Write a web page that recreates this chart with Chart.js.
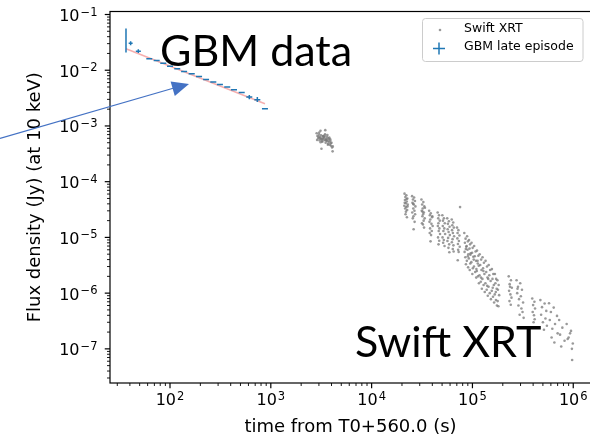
<!DOCTYPE html>
<html>
<head>
<meta charset="utf-8">
<script src="https://cdn.jsdelivr.net/npm/chart.js@4.4.0/dist/chart.umd.min.js"></script>
<style>
    html, body { margin: 0; padding: 0; background: #fff; overflow: hidden; }
    #wrap { position: relative; width: 600px; height: 439px; }
    #chart { position: absolute; left: 0; top: 0; }
    #overlay { position: absolute; left: 0; top: 0; pointer-events: none; }
</style>
</head>
<body>
<div id="wrap">
    <canvas id="chart" width="600" height="439"></canvas>
    <svg id="overlay" width="600" height="439" xmlns="http://www.w3.org/2000/svg">
        <!-- legend -->
        <rect x="422.5" y="18.5" width="160.5" height="43" rx="3" fill="rgba(255,255,255,0.8)" stroke="#cccccc" stroke-width="1"/>
        <circle cx="440" cy="30" r="1.3" fill="rgba(120,120,120,0.75)"/>
        <text x="464" y="32" font-family="DejaVu Sans" font-size="12.5" fill="#000">Swift XRT</text>
        <line x1="433" y1="48.5" x2="445" y2="48.5" stroke="#1f77b4" stroke-width="1.5"/>
        <line x1="439" y1="42.5" x2="439" y2="54.5" stroke="#1f77b4" stroke-width="1.5"/>
        <text x="464" y="49.5" font-family="DejaVu Sans" font-size="12.5" fill="#000">GBM late episode</text>
        <!-- annotations -->
        <text x="160" y="66" font-family="Lato" font-size="43" fill="#000">GBM data</text>
        <text x="355" y="357" font-family="Lato" font-size="43" fill="#000">Swift XRT</text>
        <line x1="0" y1="138.5" x2="174" y2="88" stroke="#4472C4" stroke-width="1.3"/>
        <polygon points="189,84 170.6,81.5 174.8,95.9" fill="#4472C4"/>
    </svg>
</div>
<script>
// GBM late episode (binned light curve, with error bars)
const gbmTime   = [36.6, 40.7, 48.5, 62.3, 73.8, 85.8, 100, 118, 138, 164, 194, 228, 269, 313, 370, 431, 514, 612, 735, 875];
const gbmTimeLo = [36.3, 38.9, 45.8, 58.2, 68.9, 80.1, 93.4, 110.2, 128.9, 153, 181, 213, 251, 292, 345, 402, 480, 571, 686, 817];
const gbmTimeHi = [36.9, 42.6, 51.4, 66.7, 79.0, 91.9, 107.1, 126.4, 147.8, 176, 208, 244, 288, 335, 396, 462, 551, 655, 787, 937];
const gbmFlux   = [0.0342, 0.0306, 0.0220, 0.0161, 0.0150, 0.0134, 0.01183, 0.01064, 0.0095, 0.00865, 0.00774, 0.00684, 0.00612, 0.00557, 0.00498, 0.00448, 0.0040, 0.0033, 0.00296, 0.00204];
const gbmFluxLo = [0.0208, 0.0282, 0.0203, 0.0158, 0.0147, 0.0131, 0.0116, 0.0104, 0.0093, 0.00848, 0.00759, 0.0067, 0.0060, 0.00546, 0.00488, 0.00439, 0.00392, 0.0030, 0.0027, 0.0020];
const gbmFluxHi = [0.0561, 0.0332, 0.0239, 0.0164, 0.0153, 0.0137, 0.0121, 0.0109, 0.0097, 0.00882, 0.00789, 0.00698, 0.00624, 0.00568, 0.00508, 0.00457, 0.00408, 0.0036, 0.0033, 0.00208];

// power-law line drawn through the GBM points
const fitTime = [36.6, 875];
const fitFlux = [0.0243, 0.00251];

// Swift XRT points, one line per visibility window
const xrtTime = [
    2850, 2900, 2950, 3000, 3050, 3100, 3150, 3200, 3250, 3300, 3350, 3400, 3450, 3500, 3550, 3600, 3650, 3700, 3750, 3800,
    3850, 3900, 3950, 4000, 4050, 2880, 2980, 3120, 3280, 3420, 3580, 3720, 3880, 3470, 3110, 3180, 4100, 4120, 3020, 3680,
    3060, 3230, 3390, 3530, 3640, 3780, 3920, 3300, 3160, 3500,
    21200, 22100, 21600, 22600, 21400, 22300, 21800, 22800, 21100, 22000, 21500, 22500, 21900, 22200, 21300, 22700, 21700, 22400,
    25200, 26400, 25700, 26900, 25400, 26200, 27200, 25900, 26600, 25300, 27000, 26000, 25600, 26700, 26100, 25800,
    31200, 32600, 31700, 33300, 32100, 31400, 33000, 32400, 31900, 33600, 32800, 31600, 32300, 33100, 32000, 33800,
    37200, 38600, 37800, 39800, 38200, 37500, 39200, 40300, 38000, 39500, 37700, 38900, 38400, 40000,
    45200, 46600, 45800, 47400, 46000, 45400, 47000, 46300, 47700, 45600, 46800, 46100,
    50300, 52100, 51000, 53200, 50800, 52600, 51500, 53600, 50500, 52000, 51200, 52900,
    56200, 58400, 57100, 59300, 56800, 58000, 59700, 57400, 56500, 58800, 57800, 59000,
    62300, 64500, 63100, 65400, 62800, 64000, 65800, 63500, 62500, 64800, 63800, 65100,
    70300, 72600, 71200, 74300, 70900, 73400, 71800, 74800, 72100, 73000, 71500, 75400,
    83000, 85500, 84200, 86800, 83600, 85000, 86200,
    88500, 90200, 87600, 89400, 91000, 88000, 90600,
    92500, 94800, 93600, 96000, 92000, 95200, 94000,
    98000, 100500, 99200, 102000, 97500, 101000, 99800,
    104000, 107500, 105500, 108500, 103500, 106500, 109000,
    111000, 114500, 112500, 115500, 110500, 113500, 116000,
    118000, 122000, 119500, 123000, 117500, 121000, 124000,
    126000, 130000, 127500, 131500, 125500, 129000, 132500,
    135000, 139500, 137000, 141000, 134500, 138500, 142000,
    145000, 150000, 147000, 151500, 144500, 148500, 152500,
    156000, 161000, 158000, 163000, 155500, 160000, 164000,
    167000, 172000, 169000, 174000, 166500, 171000, 175000,
    177000, 182000, 179000, 184000, 178000, 181000,
    86000, 95500, 103000, 113000, 128500, 143500, 159000, 170500, 90000, 109500, 121500, 140000,
    229000, 241000, 234000, 246000, 231000, 238000, 244000, 233000, 240000, 236000,
    274000, 298000, 283000, 310000, 278000, 302000, 290000, 318000, 286000, 306000, 314000, 294000, 322000, 280000,
    392000, 412000, 400000, 418000, 396000, 408000, 414000, 404000,
    472000, 520000, 490000, 540000, 480000, 530000, 500000, 548000, 512000,
    575000, 640000, 600000, 690000, 585000, 660000, 620000, 700000, 610000, 650000,
    725000, 860000, 780000, 950000, 740000, 900000, 820000, 990000, 760000, 930000, 880000, 970000, 975000
];
const xrtFlux = [
    7.4e-4, 6.6e-4, 6.0e-4, 7.0e-4, 5.5e-4, 6.3e-4, 6.8e-4, 5.8e-4, 5.2e-4, 6.5e-4, 6.1e-4, 5.6e-4, 7.1e-4, 5.0e-4, 5.9e-4, 6.4e-4, 5.3e-4, 4.8e-4, 5.7e-4, 6.2e-4,
    4.6e-4, 5.4e-4, 4.4e-4, 5.0e-4, 4.1e-4, 5.6e-4, 6.4e-4, 5.1e-4, 5.9e-4, 6.7e-4, 5.5e-4, 6.0e-4, 5.8e-4, 8.4e-4, 8.2e-4, 3.9e-4, 3.5e-4, 4.3e-4, 7.6e-4, 4.6e-4,
    6.0e-4, 5.4e-4, 6.3e-4, 5.7e-4, 6.9e-4, 5.2e-4, 4.9e-4, 6.6e-4, 5.9e-4, 5.5e-4,
    6.1e-5, 5.7e-5, 5.3e-5, 5.0e-5, 4.7e-5, 4.4e-5, 4.1e-5, 3.9e-5, 3.7e-5, 3.5e-5, 3.3e-5, 3.1e-5, 2.9e-5, 4.9e-5, 4.2e-5, 3.6e-5, 2.6e-5, 2.3e-5,
    5.5e-5, 5.2e-5, 4.8e-5, 4.5e-5, 4.2e-5, 3.9e-5, 3.6e-5, 3.3e-5, 3.0e-5, 2.8e-5, 2.6e-5, 2.4e-5, 2.2e-5, 1.9e-5, 1.4e-5, 4.0e-5,
    4.8e-5, 4.3e-5, 3.9e-5, 3.6e-5, 3.3e-5, 3.0e-5, 2.8e-5, 2.6e-5, 2.4e-5, 2.2e-5, 2.0e-5, 1.8e-5, 1.7e-5, 1.5e-5, 2.9e-5, 3.4e-5,
    3.0e-5, 2.7e-5, 2.5e-5, 2.3e-5, 2.1e-5, 1.9e-5, 1.75e-5, 1.6e-5, 1.45e-5, 1.3e-5, 1.2e-5, 1.1e-5, 8.5e-6, 2.4e-5,
    2.8e-5, 2.5e-5, 2.2e-5, 2.0e-5, 1.8e-5, 1.6e-5, 1.45e-5, 1.3e-5, 1.15e-5, 1.0e-5, 8.7e-6, 7.5e-6,
    2.5e-5, 2.2e-5, 2.0e-5, 1.8e-5, 1.6e-5, 1.45e-5, 1.3e-5, 1.15e-5, 1.0e-5, 9.0e-6, 8.0e-6, 7.0e-6,
    2.2e-5, 1.95e-5, 1.75e-5, 1.55e-5, 1.4e-5, 1.25e-5, 1.1e-5, 9.8e-6, 8.6e-6, 7.5e-6, 6.5e-6, 5.4e-6,
    2.1e-5, 1.85e-5, 1.65e-5, 1.5e-5, 1.35e-5, 1.2e-5, 1.05e-5, 9.3e-6, 8.2e-6, 7.2e-6, 6.2e-6, 5.6e-6,
    1.5e-5, 1.35e-5, 1.2e-5, 1.08e-5, 9.6e-6, 8.6e-6, 7.6e-6, 6.8e-6, 6.0e-6, 5.5e-6, 3.9e-6, 3.5e-5,
    1.2e-5, 9.5e-6, 8.0e-6, 6.8e-6, 5.5e-6, 4.4e-6, 3.3e-6,
    1.05e-5, 8.5e-6, 7.0e-6, 6.0e-6, 5.0e-6, 3.8e-6, 2.9e-6,
    9.0e-6, 7.5e-6, 6.3e-6, 5.2e-6, 4.2e-6, 3.4e-6, 2.6e-6,
    8.0e-6, 6.5e-6, 5.3e-6, 4.5e-6, 3.6e-6, 2.8e-6, 2.2e-6,
    7.0e-6, 5.6e-6, 4.6e-6, 3.8e-6, 3.0e-6, 2.4e-6, 1.9e-6,
    5.8e-6, 4.7e-6, 3.8e-6, 3.1e-6, 2.5e-6, 2.0e-6, 1.5e-6,
    5.0e-6, 4.0e-6, 3.2e-6, 2.6e-6, 2.1e-6, 1.6e-6, 1.2e-6,
    4.4e-6, 3.5e-6, 2.8e-6, 2.2e-6, 1.8e-6, 1.4e-6, 1.05e-6,
    3.8e-6, 3.0e-6, 2.4e-6, 1.9e-6, 1.5e-6, 1.15e-6, 9.0e-7,
    3.2e-6, 2.6e-6, 2.1e-6, 1.65e-6, 1.3e-6, 1.0e-6, 7.8e-7,
    2.7e-6, 2.2e-6, 1.8e-6, 1.4e-6, 1.1e-6, 8.6e-7, 6.8e-7,
    2.2e-6, 1.8e-6, 1.5e-6, 1.2e-6, 9.5e-7, 7.5e-7, 6.0e-7,
    1.7e-6, 1.4e-6, 1.15e-6, 9.2e-7, 7.2e-7, 5.8e-7,
    6.2e-6, 4.9e-6, 4.0e-6, 3.4e-6, 2.5e-6, 1.8e-6, 1.25e-6, 1.05e-6, 4.6e-6, 2.7e-6, 1.9e-6, 1.35e-6,
    2.0e-6, 1.7e-6, 1.45e-6, 1.25e-6, 1.1e-6, 9.5e-7, 8.3e-7, 7.2e-7, 6.2e-7, 1.3e-6,
    1.7e-6, 1.5e-6, 1.3e-6, 1.15e-6, 1.0e-6, 8.8e-7, 7.8e-7, 6.8e-7, 6.0e-7, 5.3e-7, 4.6e-7, 4.1e-7, 3.6e-7, 1.2e-6,
    8.0e-7, 7.0e-7, 6.1e-7, 5.3e-7, 4.6e-7, 4.0e-7, 3.4e-7, 3.0e-7,
    7.5e-7, 6.5e-7, 5.6e-7, 4.8e-7, 4.1e-7, 3.5e-7, 3.0e-7, 2.6e-7, 2.2e-7,
    6.6e-7, 5.5e-7, 4.6e-7, 3.9e-7, 3.3e-7, 2.8e-7, 2.3e-7, 1.9e-7, 1.6e-7, 1.3e-7,
    3.3e-7, 2.8e-7, 2.4e-7, 2.1e-7, 1.8e-7, 1.6e-7, 1.4e-7, 1.25e-7, 1.1e-7, 1.9e-7, 1.5e-7, 1.0e-7, 6.3e-8
];

// axis limits
const xMin = 25.4, xMax = 1.5e6;
const yMin = 2.44e-8, yMax = 0.1132;

// log decades: frame, minor/major tick marks and 10^n labels (matplotlib look)
const axisDecor = {
    id: 'axisDecor',
    afterDraw(chart) {
        const { ctx, chartArea: a, scales: { x, y } } = chart;
        function each(scale, cb) {
            const lo = Math.floor(Math.log10(scale.min));
            const hi = Math.ceil(Math.log10(scale.max));
            for (let e = lo; e <= hi; e++) {
                for (let k = 1; k <= 9; k++) {
                    const v = k * Math.pow(10, e);
                    if (v < scale.min || v > scale.max) continue;
                    cb(scale.getPixelForValue(v), k === 1, e);
                }
            }
        }
        const baseFont = '16px "DejaVu Sans"';
        const expFont = '11.5px "DejaVu Sans"';
        function label(e) {
            const exp = e < 0 ? '\u2212' + (-e) : String(e);
            ctx.font = baseFont;
            const wb = ctx.measureText('10').width;
            ctx.font = expFont;
            const we = ctx.measureText(exp).width;
            return { exp, wb, we, w: wb + 1 + we };
        }
        function drawLabel(l, left, baseline) {
            ctx.font = baseFont;
            ctx.fillText('10', left, baseline);
            ctx.font = expFont;
            ctx.fillText(l.exp, left + l.wb + 1, baseline - 5.5);
        }
        ctx.save();
        ctx.strokeStyle = '#000';
        ctx.fillStyle = '#000';
        ctx.textAlign = 'left';
        ctx.textBaseline = 'alphabetic';
        each(x, (px, major, e) => {
            ctx.lineWidth = major ? 1.2 : 0.9;
            ctx.beginPath();
            ctx.moveTo(px, a.bottom);
            ctx.lineTo(px, a.bottom + (major ? 5.25 : 3));
            ctx.stroke();
            if (major) {
                const l = label(e);
                drawLabel(l, px - l.w / 2, a.bottom + 22);
            }
        });
        each(y, (py, major, e) => {
            ctx.lineWidth = major ? 1.2 : 0.9;
            ctx.beginPath();
            ctx.moveTo(a.left, py);
            ctx.lineTo(a.left - (major ? 5.25 : 3), py);
            ctx.stroke();
            if (major) {
                const l = label(e);
                drawLabel(l, a.left - 12.5 - l.w, py + 6.5);
            }
        });
        ctx.lineWidth = 1.2;
        ctx.strokeRect(a.left, a.top, a.right - a.left, a.bottom - a.top);
        ctx.restore();
    }
};

// error bars for the GBM points
const gbmErrorBars = {
    id: 'gbmErrorBars',
    afterDatasetsDraw(chart) {
        const { ctx, scales: { x, y } } = chart;
        ctx.save();
        ctx.strokeStyle = '#1f77b4';
        ctx.lineWidth = 1.5;
        gbmTime.forEach((t, i) => {
            const px = x.getPixelForValue(t);
            const py = y.getPixelForValue(gbmFlux[i]);
            ctx.beginPath();
            ctx.moveTo(x.getPixelForValue(gbmTimeLo[i]), py);
            ctx.lineTo(x.getPixelForValue(gbmTimeHi[i]), py);
            ctx.moveTo(px, y.getPixelForValue(gbmFluxLo[i]));
            ctx.lineTo(px, y.getPixelForValue(gbmFluxHi[i]));
            ctx.stroke();
        });
        ctx.restore();
    }
};

const titleFont = { family: 'DejaVu Sans', size: 18 };

new Chart(document.getElementById('chart'), {
    type: 'scatter',
    data: {
        datasets: [
            {
                label: 'Swift XRT',
                data: xrtTime.map((t, i) => ({ x: t, y: xrtFlux[i] })),
                pointRadius: 1.3,
                pointBackgroundColor: 'rgba(120,120,120,0.75)',
                pointBorderWidth: 0
            },
            {
                label: 'fit',
                data: fitTime.map((t, i) => ({ x: t, y: fitFlux[i] })),
                showLine: true,
                borderColor: 'rgba(240,120,120,0.6)',
                borderWidth: 1.5,
                pointRadius: 0
            },
            {
                label: 'GBM late episode',
                data: gbmTime.map((t, i) => ({ x: t, y: gbmFlux[i] })),
                pointRadius: 0
            }
        ]
    },
    options: {
        responsive: false,
        animation: false,
        layout: { padding: { top: 11.5, right: 9, left: 0, bottom: 0 } },
        plugins: {
            legend: { display: false },
            tooltip: { enabled: false }
        },
        scales: {
            x: {
                type: 'logarithmic',
                min: xMin,
                max: xMax,
                afterFit: function (scale) {
                    scale.height = 56;
                    scale.paddingLeft = 0;
                    scale.paddingRight = 0;
                },
                grid: { display: false, drawTicks: false },
                border: { display: false },
                ticks: { display: false },
                title: {
                    display: true,
                    text: 'time from T0+560.0 (s)',
                    color: '#000',
                    font: titleFont,
                    padding: { top: 0, bottom: 1 }
                }
            },
            y: {
                type: 'logarithmic',
                min: yMin,
                max: yMax,
                afterFit: function (scale) {
                    scale.width = 110;
                    scale.paddingTop = 0;
                    scale.paddingBottom = 0;
                },
                grid: { display: false, drawTicks: false },
                border: { display: false },
                ticks: { display: false },
                title: {
                    display: true,
                    text: 'Flux density (Jy) (at 10 keV)',
                    color: '#000',
                    font: titleFont,
                    padding: { top: 24.5, bottom: 0 }
                }
            }
        }
    },
    plugins: [axisDecor, gbmErrorBars]
});
</script>
</body>
</html>
